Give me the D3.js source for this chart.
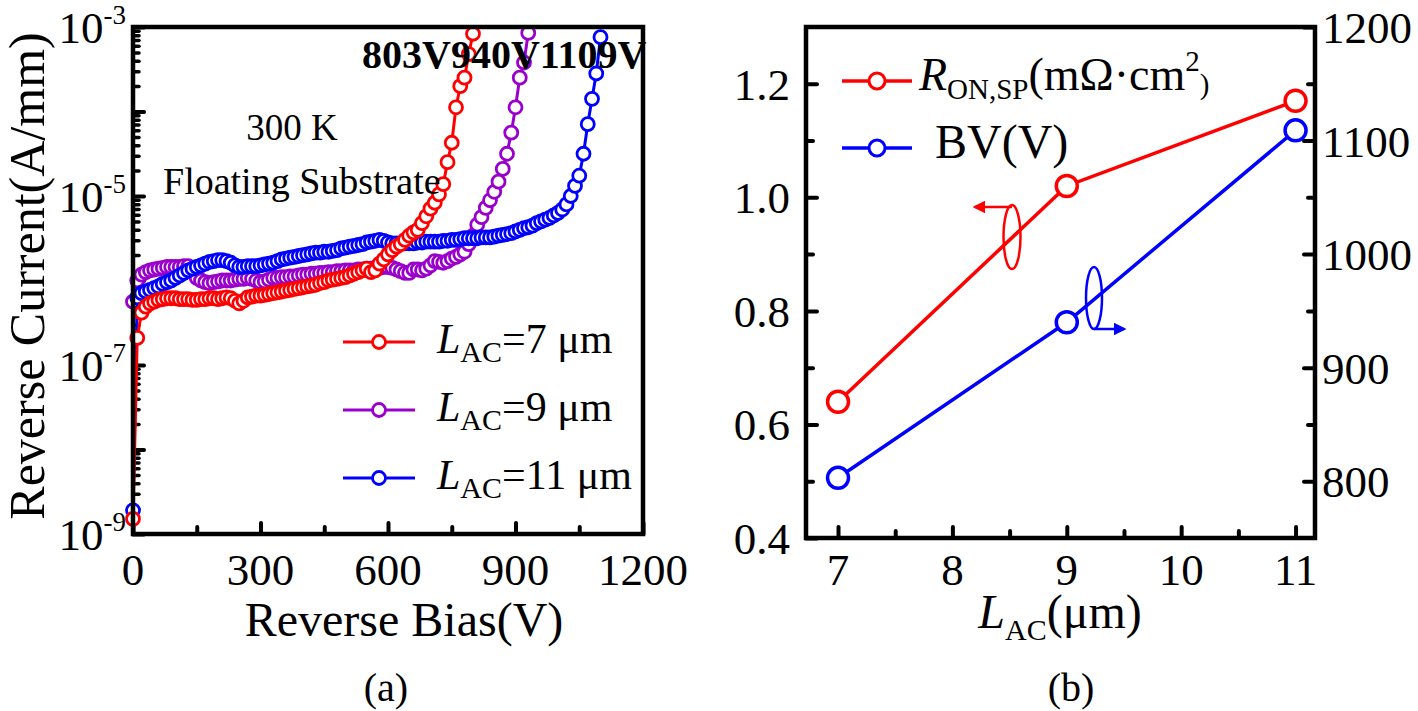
<!DOCTYPE html>
<html>
<head>
<meta charset="utf-8">
<script src="https://cdn.jsdelivr.net/npm/d3@7"></script>
<style>
  body { margin: 0; background: #fff; }
  svg text { font-family: "Liberation Serif", "Times New Roman", serif; fill: #000; }
</style>
</head>
<body>
<svg id="fig" width="1418" height="711"></svg>
<script>
// ---- data ----
// panel (a): [reverse bias (V), log10 of reverse current (A/mm)]
const lac7 = [[0,-8.82],[10,-6.68],[20,-6.38],[30,-6.31],[40,-6.27],[50,-6.25],[60,-6.23],[70,-6.22],[80,-6.21],[90,-6.21],
  [100,-6.21],[110,-6.22],[120,-6.22],[130,-6.22],[140,-6.23],[150,-6.23],[160,-6.22],[170,-6.22],[180,-6.21],[190,-6.21],
  [200,-6.22],[210,-6.21],[220,-6.2],[230,-6.21],[240,-6.24],[250,-6.27],[260,-6.24],[270,-6.2],[280,-6.19],[290,-6.18],
  [300,-6.18],[310,-6.17],[320,-6.16],[330,-6.15],[340,-6.14],[350,-6.13],[360,-6.12],[370,-6.11],[380,-6.1],[390,-6.09],
  [400,-6.08],[410,-6.07],[420,-6.06],[430,-6.05],[440,-6.03],[450,-6.02],[460,-6.0],[470,-5.99],[480,-5.98],[490,-5.97],
  [500,-5.96],[510,-5.94],[520,-5.92],[530,-5.9],[540,-5.88],[550,-5.86],[560,-5.9],[570,-5.88],[580,-5.8],[590,-5.75],
  [600,-5.69],[610,-5.64],[620,-5.6],[630,-5.57],[640,-5.52],[650,-5.47],[660,-5.43],[670,-5.4],[680,-5.32],[690,-5.24],
  [700,-5.15],[710,-5.08],[720,-4.98],[730,-4.86],[740,-4.6],[750,-4.37],[760,-3.95],[770,-3.7],[780,-3.6],[790,-3.32],
  [800,-3.08]];

const lac9 = [[0,-6.25],[10,-6.0],[20,-5.93],[30,-5.9],[40,-5.88],[50,-5.87],[60,-5.86],[70,-5.85],[80,-5.84],[90,-5.84],
  [100,-5.84],[110,-5.84],[120,-5.83],[130,-5.83],[140,-5.9],[150,-5.97],[160,-6.0],[170,-6.02],[180,-6.03],[190,-6.02],
  [200,-6.01],[210,-6.0],[220,-6.0],[230,-6.0],[240,-5.99],[250,-5.98],[260,-5.98],[270,-5.97],[280,-5.98],[290,-6.0],
  [300,-6.02],[310,-6.01],[320,-5.99],[330,-5.97],[340,-5.97],[350,-5.96],[360,-5.96],[370,-5.95],[380,-5.95],[390,-5.94],
  [400,-5.93],[410,-5.93],[420,-5.92],[430,-5.92],[440,-5.91],[450,-5.91],[460,-5.9],[470,-5.9],[480,-5.89],[490,-5.89],
  [500,-5.88],[510,-5.88],[520,-5.88],[530,-5.87],[540,-5.87],[550,-5.86],[560,-5.86],[570,-5.85],[580,-5.85],[590,-5.84],
  [600,-5.84],[610,-5.85],[620,-5.87],[630,-5.89],[640,-5.91],[650,-5.91],[660,-5.87],[670,-5.87],[680,-5.88],[690,-5.86],
  [700,-5.82],[710,-5.77],[720,-5.78],[730,-5.79],[740,-5.77],[750,-5.74],[760,-5.72],[770,-5.69],[780,-5.66],[790,-5.57],
  [800,-5.47],[810,-5.34],[820,-5.25],[830,-5.14],[840,-5.05],[850,-4.95],[860,-4.83],[870,-4.68],[880,-4.5],[890,-4.25],
  [900,-3.95],[910,-3.6],[920,-3.42],[930,-3.07]];

const lac11 = [[0,-8.72],[10,-6.2],[20,-6.15],[30,-6.13],[40,-6.11],[50,-6.09],[60,-6.07],[70,-6.04],[80,-6.02],[90,-6.0],
  [100,-5.97],[110,-5.94],[120,-5.91],[130,-5.88],[140,-5.86],[150,-5.84],[160,-5.82],[170,-5.8],[180,-5.78],[190,-5.77],
  [200,-5.76],[210,-5.76],[220,-5.77],[230,-5.79],[240,-5.82],[250,-5.84],[260,-5.84],[270,-5.83],[280,-5.83],[290,-5.83],
  [300,-5.82],[310,-5.81],[320,-5.8],[330,-5.79],[340,-5.77],[350,-5.75],[360,-5.74],[370,-5.73],[380,-5.72],[390,-5.71],
  [400,-5.7],[410,-5.69],[420,-5.68],[430,-5.67],[440,-5.67],[450,-5.66],[460,-5.66],[470,-5.65],[480,-5.64],[490,-5.62],
  [500,-5.61],[510,-5.6],[520,-5.59],[530,-5.58],[540,-5.57],[550,-5.55],[560,-5.54],[570,-5.53],[580,-5.52],[590,-5.53],
  [600,-5.55],[610,-5.56],[620,-5.56],[630,-5.56],[640,-5.56],[650,-5.56],[660,-5.56],[670,-5.55],[680,-5.55],[690,-5.54],
  [700,-5.54],[710,-5.54],[720,-5.54],[730,-5.53],[740,-5.53],[750,-5.52],[760,-5.52],[770,-5.51],[780,-5.5],[790,-5.5],
  [800,-5.5],[810,-5.5],[820,-5.49],[830,-5.49],[840,-5.49],[850,-5.48],[860,-5.47],[870,-5.46],[880,-5.45],[890,-5.44],
  [900,-5.42],[910,-5.4],[920,-5.38],[930,-5.37],[940,-5.35],[950,-5.32],[960,-5.3],[970,-5.28],[980,-5.26],[990,-5.23],
  [1000,-5.2],[1010,-5.16],[1020,-5.1],[1030,-5.0],[1040,-4.88],[1050,-4.76],[1060,-4.5],[1070,-4.15],[1080,-3.85],[1090,-3.55],
  [1100,-3.12]];

// panel (b)
const lacValues = [7, 9, 11];            // L_AC (um)
const ronSp = [0.64, 1.02, 1.17];        // R_ON,SP (mOhm.cm2)
const breakdown = [803, 940, 1109];      // BV (V)

// tick labels
const biasTicks = [0, 300, 600, 900, 1200];
const currentExpTicks = [-3, -5, -7, -9];
const lacTicks = [7, 8, 9, 10, 11];
const ronTicks = [0.4, 0.6, 0.8, 1.0, 1.2];
const bvTicks = [800, 900, 1000, 1100, 1200];

const colors = ["#ff0000", "#9900cc", "#0000ff"];

// ---- layout ----
const pa = {left: 133, right: 643, top: 27, bottom: 534};
const pb = {left: 806, right: 1315, top: 27, bottom: 538};
const tickFont = 45;

const svg = d3.select("#fig");

const defs = svg.append("defs");
["red", "blue"].forEach((c, i) => {
  defs.append("marker")
    .attr("id", "arrow-" + c)
    .attr("viewBox", "0 0 10 10")
    .attr("refX", 8).attr("refY", 5)
    .attr("markerWidth", 5).attr("markerHeight", 5)
    .attr("orient", "auto")
    .append("path").attr("d", "M0,0 L10,5 L0,10 z")
    .attr("fill", i == 0 ? colors[0] : colors[2]);
});

// ======================= panel (a) =======================
const xA = d3.scaleLinear().domain([0, 1200]).range([pa.left, pa.right]);
const yA = d3.scaleLog().domain([1e-9, 1e-3]).range([pa.bottom, pa.top]);

const gA = svg.append("g");

// ticks (inward)
function styleTicks(g) {
  g.select(".domain").remove();
  g.selectAll(".tick line").attr("stroke", "#000").attr("stroke-width", 4).attr("stroke-linecap", "round");
  g.selectAll(".tick text").remove();
}
gA.append("g").attr("transform", `translate(0,${pa.bottom})`)
  .call(d3.axisBottom(xA).tickValues(biasTicks).tickSizeInner(-11).tickSizeOuter(0)).call(styleTicks);
gA.append("g").attr("transform", `translate(0,${pa.bottom})`)
  .call(d3.axisBottom(xA).tickValues([150, 450, 750, 1050]).tickSizeInner(-7).tickSizeOuter(0)).call(styleTicks);

const decades = d3.range(-9, -2).map(e => Math.pow(10, e));
gA.append("g").attr("transform", `translate(${pa.left},0)`)
  .call(d3.axisLeft(yA).tickValues(decades).tickSizeInner(-11).tickSizeOuter(0)).call(styleTicks);
gA.append("g").attr("transform", `translate(${pa.left},0)`)
  .call(d3.axisLeft(yA).tickValues(yA.ticks().filter(v => Math.abs(Math.log10(v) % 1) > 0.01)).tickSizeInner(-6).tickSizeOuter(0))
  .call(styleTicks)
  .selectAll(".tick line").attr("stroke-width", 3.5);

// tick labels
gA.selectAll(".xlab").data(biasTicks).join("text")
  .attr("x", d => xA(d)).attr("y", 585)
  .attr("text-anchor", "middle").attr("font-size", tickFont)
  .text(d => d);

const ylab = gA.selectAll(".ylab").data(currentExpTicks).join("text")
  .attr("x", 126).attr("y", d => yA(Math.pow(10, d)) + 16)
  .attr("text-anchor", "end").attr("font-size", tickFont);
ylab.append("tspan").text("10");
ylab.append("tspan").attr("font-size", 27).attr("dy", -19).text(d => d);

// curves (purple, blue, red stacking)
const seriesA = [
  {data: lac9, color: colors[1]},
  {data: lac11, color: colors[2]},
  {data: lac7, color: colors[0]}
];
const lineA = d3.line().x(d => xA(d[0])).y(d => yA(Math.pow(10, d[1])));
seriesA.forEach(s => {
  gA.append("path").datum(s.data)
    .attr("d", lineA).attr("fill", "none")
    .attr("stroke", s.color).attr("stroke-width", 3);
  gA.append("g").selectAll("circle").data(s.data).join("circle")
    .attr("cx", d => xA(d[0])).attr("cy", d => yA(Math.pow(10, d[1])))
    .attr("r", 6.5).attr("fill", "#fff")
    .attr("stroke", s.color).attr("stroke-width", 2.8);
});

// frame
gA.append("rect")
  .attr("x", pa.left).attr("y", pa.top)
  .attr("width", pa.right - pa.left).attr("height", pa.bottom - pa.top)
  .attr("fill", "none").attr("stroke", "#000").attr("stroke-width", 4.5);

// annotations
gA.append("text").attr("x", 292).attr("y", 140).attr("text-anchor", "middle")
  .attr("font-size", 37).text("300 K");
gA.append("text").attr("x", 163).attr("y", 194)
  .attr("font-size", 38).text("Floating Substrate");
gA.append("text").attr("x", 362).attr("y", 68)
  .attr("font-size", 40).attr("font-weight", "bold")
  .text(breakdown.map(v => v + "V").join(""));

// legend
const legOrder = [
  {lac: lacValues[0], color: colors[0]},
  {lac: lacValues[1], color: colors[1]},
  {lac: lacValues[2], color: colors[2]}
];
const legA = gA.selectAll(".legA").data(legOrder)
  .join("g")
  .attr("transform", (d, k) => `translate(0,${342 + k * 68})`);
legA.append("line").attr("x1", 343).attr("x2", 415)
  .attr("stroke", d => d.color).attr("stroke-width", 3);
legA.append("circle").attr("cx", 379).attr("r", 6.5).attr("fill", "#fff")
  .attr("stroke", d => d.color).attr("stroke-width", 2.8);
const legAText = legA.append("text").attr("x", 437).attr("y", 11).attr("font-size", 42);
legAText.append("tspan").attr("font-style", "italic").text("L");
legAText.append("tspan").attr("font-size", 30).attr("dy", 9).text("AC");
legAText.append("tspan").attr("dy", -9).text(d => "=" + d.lac + " \u03bcm");

// axis titles
gA.append("text").attr("x", 404).attr("y", 636).attr("text-anchor", "middle")
  .attr("font-size", 48).text("Reverse Bias(V)");
gA.append("text").attr("transform", "translate(44,276) rotate(-90)")
  .attr("text-anchor", "middle").attr("font-size", 50).text("Reverse Current(A/mm)");
gA.append("text").attr("x", 386).attr("y", 701).attr("text-anchor", "middle")
  .attr("font-size", 40).text("(a)");

// ======================= panel (b) =======================
const xB = d3.scaleLinear().domain([6.72, 11.17]).range([pb.left, pb.right]);
const yB = d3.scaleLinear().domain([0.4, 1.3]).range([pb.bottom, pb.top]);
const yB2 = d3.scaleLinear().domain([750, 1200]).range([pb.bottom, pb.top]);

const gB = svg.append("g");

gB.append("g").attr("transform", `translate(0,${pb.bottom})`)
  .call(d3.axisBottom(xB).tickValues(lacTicks).tickSizeInner(-11).tickSizeOuter(0)).call(styleTicks);
gB.append("g").attr("transform", `translate(0,${pb.bottom})`)
  .call(d3.axisBottom(xB).tickValues([7.5, 8.5, 9.5, 10.5]).tickSizeInner(-7).tickSizeOuter(0)).call(styleTicks);
gB.append("g").attr("transform", `translate(${pb.left},0)`)
  .call(d3.axisLeft(yB).tickValues(ronTicks).tickSizeInner(-11).tickSizeOuter(0)).call(styleTicks);
gB.append("g").attr("transform", `translate(${pb.left},0)`)
  .call(d3.axisLeft(yB).tickValues([0.5, 0.7, 0.9, 1.1]).tickSizeInner(-7).tickSizeOuter(0)).call(styleTicks);
gB.append("g").attr("transform", `translate(${pb.right},0)`)
  .call(d3.axisRight(yB2).tickValues(bvTicks).tickSizeInner(-11).tickSizeOuter(0)).call(styleTicks);
gB.append("g").attr("transform", `translate(${pb.right},0)`)
  .call(d3.axisRight(yB2).tickValues([850, 950, 1050, 1150]).tickSizeInner(-7).tickSizeOuter(0)).call(styleTicks);

gB.selectAll(".xlabB").data(lacTicks).join("text")
  .attr("x", d => xB(d)).attr("y", 585).attr("text-anchor", "middle")
  .attr("font-size", tickFont).text(d => d);
gB.selectAll(".ylabB").data(ronTicks).join("text")
  .attr("x", 790).attr("y", d => yB(d) + 16).attr("text-anchor", "end")
  .attr("font-size", tickFont).text(d => d3.format(".1f")(d));
gB.selectAll(".ylabB2").data(bvTicks).join("text")
  .attr("x", 1322).attr("y", d => yB2(d) + 16)
  .attr("font-size", tickFont).text(d => d);

// lines
const ronData = lacValues.map((l, i) => [l, ronSp[i]]);
const bvData = lacValues.map((l, i) => [l, breakdown[i]]);
gB.append("path").datum(ronData)
  .attr("d", d3.line().x(d => xB(d[0])).y(d => yB(d[1])))
  .attr("fill", "none").attr("stroke", colors[0]).attr("stroke-width", 3.5);
gB.selectAll(".ronPt").data(ronData).join("circle")
  .attr("cx", d => xB(d[0])).attr("cy", d => yB(d[1])).attr("r", 10.5)
  .attr("fill", "#fff").attr("stroke", colors[0]).attr("stroke-width", 3.5);
gB.append("path").datum(bvData)
  .attr("d", d3.line().x(d => xB(d[0])).y(d => yB2(d[1])))
  .attr("fill", "none").attr("stroke", colors[2]).attr("stroke-width", 3.5);
gB.selectAll(".bvPt").data(bvData).join("circle")
  .attr("cx", d => xB(d[0])).attr("cy", d => yB2(d[1])).attr("r", 10.5)
  .attr("fill", "#fff").attr("stroke", colors[2]).attr("stroke-width", 3.5);

// frame
gB.append("rect")
  .attr("x", pb.left).attr("y", pb.top)
  .attr("width", pb.right - pb.left).attr("height", pb.bottom - pb.top)
  .attr("fill", "none").attr("stroke", "#000").attr("stroke-width", 4.5);

// axis-pointing ellipses
gB.append("ellipse").attr("cx", 1012).attr("cy", 237).attr("rx", 8.5).attr("ry", 32)
  .attr("fill", "none").attr("stroke", colors[0]).attr("stroke-width", 2.5);
gB.append("line").attr("x1", 1012).attr("y1", 207).attr("x2", 975).attr("y2", 207)
  .attr("stroke", colors[0]).attr("stroke-width", 2.5).attr("marker-end", "url(#arrow-red)");
gB.append("ellipse").attr("cx", 1094).attr("cy", 298).attr("rx", 8).attr("ry", 31)
  .attr("fill", "none").attr("stroke", colors[2]).attr("stroke-width", 2.5);
gB.append("line").attr("x1", 1094).attr("y1", 329).attr("x2", 1124).attr("y2", 329)
  .attr("stroke", colors[2]).attr("stroke-width", 2.5).attr("marker-end", "url(#arrow-blue)");

// legend
const legB = gB.append("g");
legB.append("line").attr("x1", 842).attr("x2", 912).attr("y1", 81).attr("y2", 81)
  .attr("stroke", colors[0]).attr("stroke-width", 3.5);
legB.append("circle").attr("cx", 877).attr("cy", 81).attr("r", 8)
  .attr("fill", "#fff").attr("stroke", colors[0]).attr("stroke-width", 3);
legB.append("line").attr("x1", 842).attr("x2", 912).attr("y1", 148).attr("y2", 148)
  .attr("stroke", colors[2]).attr("stroke-width", 3.5);
legB.append("circle").attr("cx", 877).attr("cy", 148).attr("r", 8)
  .attr("fill", "#fff").attr("stroke", colors[2]).attr("stroke-width", 3);
const ronLab = legB.append("text").attr("x", 919).attr("y", 90).attr("font-size", 46);
ronLab.append("tspan").attr("font-style", "italic").text("R");
ronLab.append("tspan").attr("font-size", 29).attr("dy", 9).text("ON,SP");
ronLab.append("tspan").attr("dy", -9).text("(m\u03a9\u00b7cm");
ronLab.append("tspan").attr("font-size", 29).attr("dy", -19).text("2");
ronLab.append("tspan").attr("font-size", 29).attr("dy", 23).text(")");
legB.append("text").attr("x", 935).attr("y", 158).attr("font-size", 48).text("BV(V)");

// axis title
const lacTitle = gB.append("text").attr("x", 1060).attr("y", 628)
  .attr("text-anchor", "middle").attr("font-size", 48);
lacTitle.append("tspan").attr("font-style", "italic").text("L");
lacTitle.append("tspan").attr("font-size", 30).attr("dy", 12).text("AC");
lacTitle.append("tspan").attr("dy", -12).text("(\u03bcm)");
gB.append("text").attr("x", 1071).attr("y", 701).attr("text-anchor", "middle")
  .attr("font-size", 40).text("(b)");
</script>
</body>
</html>
